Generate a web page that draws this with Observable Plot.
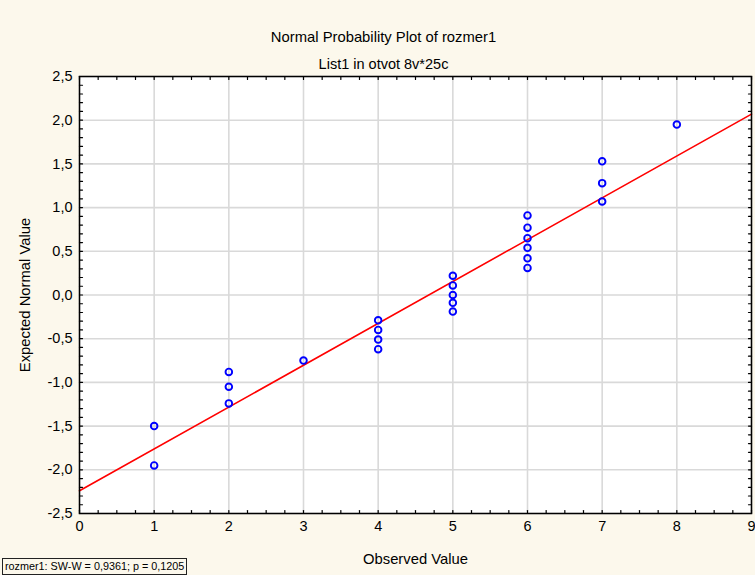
<!DOCTYPE html>
<html>
<head>
<meta charset="utf-8">
<script src="https://cdn.jsdelivr.net/npm/d3@7"></script>
<script src="https://cdn.jsdelivr.net/npm/@observablehq/plot@0.6"></script>
<style>
  html, body { margin: 0; padding: 0; background: #fcf8ec; }
  #wrap { position: relative; width: 755px; height: 575px; overflow: hidden; }
  #stat { position: absolute; left: 2px; top: 558px; border: 1px solid #222; background: #fcf8ec;
          font: 10.8px "Liberation Sans", Arial, sans-serif; padding: 1px 2px 1px 2px; line-height: 13px; color: #000; white-space: nowrap; }
</style>
</head>
<body>
<div id="wrap"><div id="chart"></div><div id="stat"></div></div>
<script>
// ---- data ----
const title = "Normal Probability Plot of rozmer1";
const subtitle = "List1 in otvot 8v*25c";
const xTitle = "Observed Value";
const yTitle = "Expected Normal Value";
const statText = "rozmer1: SW-W = 0,9361; p = 0,1205";

const xTicks = [0, 1, 2, 3, 4, 5, 6, 7, 8, 9];
const xTickLabels = ["0", "1", "2", "3", "4", "5", "6", "7", "8", "9"];
const yTicks = [-2.5, -2.0, -1.5, -1.0, -0.5, 0.0, 0.5, 1.0, 1.5, 2.0, 2.5];
const yTickLabels = ["-2,5", "-2,0", "-1,5", "-1,0", "-0,5", "0,0", "0,5", "1,0", "1,5", "2,0", "2,5"];
const xMinor = d3.range(0, 9.001, 0.25);
const yMinor = d3.range(-25, 25.001, 1).map(v => v / 10);

const observed = [1, 1, 2, 2, 2, 3, 4, 4, 4, 4, 5, 5, 5, 5, 5, 6, 6, 6, 6, 6, 6, 7, 7, 7, 8];
const expected = [-1.95, -1.50, -1.24, -1.05, -0.88, -0.75, -0.62, -0.51, -0.40, -0.29,
                  -0.19, -0.09, 0.00, 0.11, 0.22, 0.31, 0.42, 0.54, 0.65, 0.77, 0.91,
                  1.07, 1.28, 1.53, 1.95];
const fitX = [0, 9];
const fitY = [-2.24, 2.07];

// ---- build ----
const points = observed.map((x, i) => ({x, y: expected[i]}));
const fit = fitX.map((x, i) => ({x, y: fitY[i]}));
const tickShape = {draw(ctx, l) { ctx.moveTo(0, 0); ctx.lineTo(0, -l); }};
const font = '"Liberation Sans", Arial, sans-serif';

const chart = Plot.plot({
  width: 755,
  height: 575,
  marginTop: 76,
  marginBottom: 62,
  marginLeft: 79,
  marginRight: 4,
  style: {background: "transparent", fontFamily: font},
  x: {domain: [0, 9], axis: null},
  y: {domain: [-2.5, 2.5], axis: null},
  marks: [
    Plot.frame({fill: "white", stroke: "none"}),
    Plot.gridX(xTicks, {stroke: "#d9d9d9", strokeOpacity: 1, strokeWidth: 1.6}),
    Plot.gridY(yTicks, {stroke: "#d9d9d9", strokeOpacity: 1, strokeWidth: 1.6}),
    Plot.line(fit, {x: "x", y: "y", stroke: "#ff0000", strokeWidth: 1.6}),
    Plot.dot(points, {x: "x", y: "y", r: 3.3, stroke: "#0000ff", strokeWidth: 1.9, fill: "none"}),
    Plot.frame({stroke: "#000", strokeWidth: 1.5}),
    // inward ticks
    Plot.vector(xMinor, {x: d => d, frameAnchor: "bottom", length: 3, rotate: 0, anchor: "start", shape: tickShape, stroke: "#000", strokeWidth: 1.2}),
    Plot.vector(xMinor, {x: d => d, frameAnchor: "top", length: 3, rotate: 180, anchor: "start", shape: tickShape, stroke: "#000", strokeWidth: 1.2}),
    Plot.vector(yMinor, {y: d => d, frameAnchor: "left", length: 3, rotate: 90, anchor: "start", shape: tickShape, stroke: "#000", strokeWidth: 1.2}),
    Plot.vector(yMinor, {y: d => d, frameAnchor: "right", length: 3, rotate: 270, anchor: "start", shape: tickShape, stroke: "#000", strokeWidth: 1.2}),
    // tick labels
    Plot.text(xTicks, {x: d => d, frameAnchor: "bottom", dy: 17, text: (d, i) => xTickLabels[i], fontSize: 14.5, fill: "#000"}),
    Plot.text(yTicks, {y: d => d, frameAnchor: "left", dx: -7, textAnchor: "end", text: (d, i) => yTickLabels[i], fontSize: 14.5, fill: "#000"}),
    // titles
    Plot.text([title], {frameAnchor: "top", dx: -32, dy: -45, text: d => d, fontSize: 14.8, fill: "#000"}),
    Plot.text([subtitle], {frameAnchor: "top", dx: -32, dy: -18, text: d => d, fontSize: 14.5, fill: "#000"}),
    Plot.text([xTitle], {frameAnchor: "bottom", dy: 50, text: d => d, fontSize: 14.8, fill: "#000"}),
    Plot.text([yTitle], {frameAnchor: "left", dx: -54, rotate: -90, textAnchor: "middle", text: d => d, fontSize: 14.8, fill: "#000"})
  ]
});
document.getElementById("chart").appendChild(chart);
document.getElementById("stat").textContent = statText;
</script>
</body>
</html>
